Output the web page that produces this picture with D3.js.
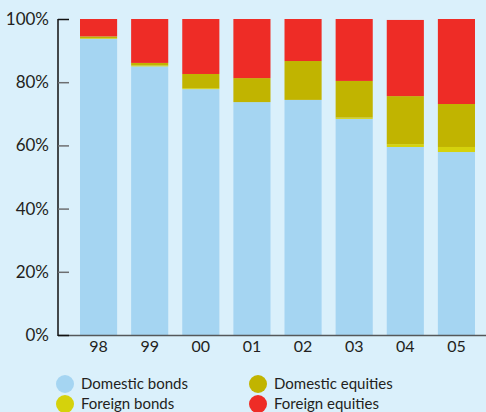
<!DOCTYPE html>
<html>
<head>
<meta charset="utf-8">
<script src="https://cdn.jsdelivr.net/npm/d3@7"></script>
<style>
  html, body { margin: 0; padding: 0; background: #daf0fb; }
  svg { display: block; }
  text { font-family: Lato, "Noto Sans", sans-serif; fill: #231f20; }
</style>
</head>
<body>
<svg id="chart" width="486" height="412"></svg>
<script>
// Portfolio composition by year (% of total)
const years = ["98", "99", "00", "01", "02", "03", "04", "05"];
const domesticBonds   = [93.7, 85.0, 77.8, 73.7, 74.4, 68.4, 59.5, 57.9];
const foreignBonds    = [0.2, 0.3, 0.3, 0.0, 0.0, 0.4, 0.9, 1.6];
const domesticEquities = [0.6, 0.8, 4.5, 7.6, 12.3, 11.6, 15.2, 13.6];
const foreignEquities = [5.5, 13.9, 17.4, 18.7, 13.3, 19.6, 24.1, 26.9];
const yTicks = [0, 20, 40, 60, 80, 100];

const seriesNames = ["Domestic bonds", "Foreign bonds", "Domestic equities", "Foreign equities"];
const seriesKeys = ["db", "fb", "de", "fe"];
const colors = { db: "#a5d5f2", fb: "#d5d20c", de: "#c1b400", fe: "#ee2c26" };

const rows = years.map((y, i) => ({
  year: y,
  db: domesticBonds[i],
  fb: foreignBonds[i],
  de: domesticEquities[i],
  fe: foreignEquities[i]
}));

const svg = d3.select("#chart");
const axisX = 58;

const x = d3.scaleBand().domain(years).range([73, 482]).paddingInner(0.274).paddingOuter(0.137);
const y = d3.scaleLinear().domain([0, 100]).range([335, 19]);

const stacked = d3.stack().keys(seriesKeys)(rows);

// Bars
svg.append("g").selectAll("g")
  .data(stacked)
  .join("g")
  .attr("fill", d => colors[d.key])
  .selectAll("rect")
  .data(d => d)
  .join("rect")
  .attr("x", d => x(d.data.year))
  .attr("width", x.bandwidth())
  .attr("y", d => y(d[1]))
  .attr("height", d => y(d[0]) - y(d[1]));

// Baseline
svg.append("line")
  .attr("x1", axisX).attr("x2", 486)
  .attr("y1", y(0) + 0.5).attr("y2", y(0) + 0.5)
  .attr("stroke", "#55585a").attr("stroke-width", 1.5);

// Y axis
const yAxis = svg.append("g")
  .attr("transform", `translate(${axisX},0)`)
  .call(d3.axisLeft(y).tickValues(yTicks).tickFormat(d => d + "%").tickSize(-11).tickPadding(9));
yAxis.select(".domain").attr("stroke", "#111").attr("stroke-width", 1.5).attr("d", `M0,${y(100)}V${y(0)+1}`);
yAxis.selectAll(".tick line").attr("stroke", "#6d6e70").attr("stroke-width", 1.5);
yAxis.selectAll(".tick").filter(d => d === 0 || d === 100).select("line").attr("stroke", "#111");
yAxis.selectAll(".tick text").attr("font-size", 17).attr("fill", "#231f20");

// X axis labels
const xAxis = svg.append("g")
  .attr("transform", `translate(0,${y(0)})`)
  .call(d3.axisBottom(x).tickSize(0).tickPadding(6));
xAxis.select(".domain").remove();
xAxis.selectAll(".tick text").attr("font-size", 16).attr("fill", "#231f20");

// Legend
const legendPos = [
  { cx: 65, cy: 384 }, { cx: 65, cy: 404 },
  { cx: 258, cy: 384 }, { cx: 258, cy: 404 }
];
const legend = svg.append("g").selectAll("g")
  .data(seriesKeys)
  .join("g")
  .attr("transform", (d, i) => `translate(${legendPos[i].cx},${legendPos[i].cy})`);
legend.append("circle").attr("r", 9).attr("fill", d => colors[d]);
legend.append("text")
  .attr("x", 16).attr("dy", "0.35em")
  .attr("font-size", 15)
  .text((d, i) => seriesNames[i]);
</script>
</body>
</html>
